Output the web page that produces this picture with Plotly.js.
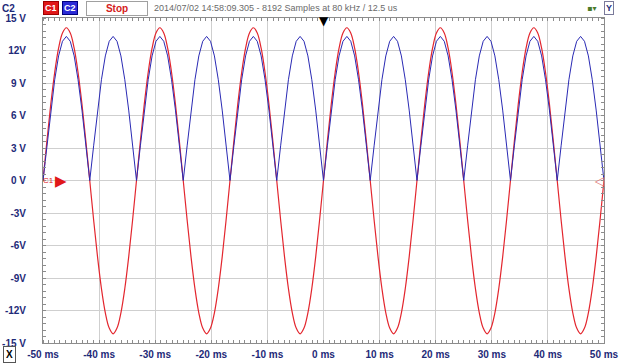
<!DOCTYPE html>
<html><head><meta charset="utf-8">
<script src="https://cdn.plot.ly/plotly-3.0.1.min.js"></script>
<style>html,body{margin:0;padding:0;background:#fff;}#chart{width:620px;height:363px;}</style>
</head><body><div id="chart"></div>
<script>
const sampleStartMs = -50;
const sampleStepMs = 0.6944;
const c1Volts = [
 0,3.65,7.05,9.97,12.21,13.62,14.1,13.62,12.21,9.97,7.05,3.65,0,-3.65,-7.05,-9.97,-12.21,-13.62,-14.15,-13.62,-12.21,-9.97,-7.05,-3.65,
 0,3.65,7.05,9.97,12.21,13.62,14.1,13.62,12.21,9.97,7.05,3.65,0,-3.65,-7.05,-9.97,-12.21,-13.62,-14.15,-13.62,-12.21,-9.97,-7.05,-3.65,
 0,3.65,7.05,9.97,12.21,13.62,14.1,13.62,12.21,9.97,7.05,3.65,0,-3.65,-7.05,-9.97,-12.21,-13.62,-14.15,-13.62,-12.21,-9.97,-7.05,-3.65,
 0,3.65,7.05,9.97,12.21,13.62,14.1,13.62,12.21,9.97,7.05,3.65,0,-3.65,-7.05,-9.97,-12.21,-13.62,-14.15,-13.62,-12.21,-9.97,-7.05,-3.65,
 0,3.65,7.05,9.97,12.21,13.62,14.1,13.62,12.21,9.97,7.05,3.65,0,-3.65,-7.05,-9.97,-12.21,-13.62,-14.15,-13.62,-12.21,-9.97,-7.05,-3.65,
 0,3.65,7.05,9.97,12.21,13.62,14.1,13.62,12.21,9.97,7.05,3.65,0,-3.65,-7.05,-9.97,-12.21,-13.62,-14.15,-13.62,-12.21,-9.97,-7.05,-3.65,
 0];
const c2Volts = [
 0,3.2,6.5,9.3,11.5,12.85,13.3,12.85,11.5,9.3,6.5,3.2,0,3.2,6.5,9.3,11.5,12.85,13.3,12.85,11.5,9.3,6.5,3.2,
 0,3.2,6.5,9.3,11.5,12.85,13.3,12.85,11.5,9.3,6.5,3.2,0,3.2,6.5,9.3,11.5,12.85,13.3,12.85,11.5,9.3,6.5,3.2,
 0,3.2,6.5,9.3,11.5,12.85,13.3,12.85,11.5,9.3,6.5,3.2,0,3.2,6.5,9.3,11.5,12.85,13.3,12.85,11.5,9.3,6.5,3.2,
 0,3.2,6.5,9.3,11.5,12.85,13.3,12.85,11.5,9.3,6.5,3.2,0,3.2,6.5,9.3,11.5,12.85,13.3,12.85,11.5,9.3,6.5,3.2,
 0,3.2,6.5,9.3,11.5,12.85,13.3,12.85,11.5,9.3,6.5,3.2,0,3.2,6.5,9.3,11.5,12.85,13.3,12.85,11.5,9.3,6.5,3.2,
 0,3.2,6.5,9.3,11.5,12.85,13.3,12.85,11.5,9.3,6.5,3.2,0,3.2,6.5,9.3,11.5,12.85,13.3,12.85,11.5,9.3,6.5,3.2,
 0];
const xTickVals = [-50,-40,-30,-20,-10,0,10,20,30,40,50];
const xTickText = ['-50 ms','-40 ms','-30 ms','-20 ms','-10 ms','0 ms','10 ms','20 ms','30 ms','40 ms','50 ms'];
const yTickVals = [15,12,9,6,3,0,-3,-6,-9,-12,-15];
const yTickText = ['15 V','12V','9 V','6 V','3 V','0 V','-3V','-6V','-9V','-12V','-15 V'];
const headerText = '2014/07/02 14:58:09.305 - 8192 Samples at 80 kHz / 12.5 us';

const navy = '#1e2a78';
const labelFont = {family:'Liberation Sans, Arial, sans-serif', size:10, color:navy, weight:'bold'};

const traces = [
  {type:'scatter', mode:'lines', x0:sampleStartMs, dx:sampleStepMs, y:c1Volts,
   line:{color:'#e3262e', width:1.2, shape:'spline'}, hoverinfo:'skip'},
  {type:'scatter', mode:'lines', x0:sampleStartMs, dx:sampleStepMs, y:c2Volts,
   line:{color:'#2a2ab4', width:1}, hoverinfo:'skip'}
];

const layout = {
  width:620, height:363,
  margin:{l:43, r:16, t:18, b:20, pad:0},
  paper_bgcolor:'#ffffff', plot_bgcolor:'#ffffff',
  showlegend:false,
  xaxis:{range:[-50,50], tickvals:xTickVals, ticktext:xTickText, tickfont:labelFont,
         showgrid:true, gridcolor:'#cfcfcf', gridwidth:1, zeroline:false,
         showline:true, linecolor:'#8c8c8c', linewidth:1, mirror:'ticks',
         ticks:'', ticklabelstandoff:2,
         minor:{dtick:1, ticks:'inside', ticklen:3, tickcolor:'#8c8c8c', showgrid:false}},
  xaxis2:{range:[-50,50], overlaying:'x', anchor:'y', side:'bottom', dtick:5, tick0:0,
          ticks:'inside', ticklen:5, tickcolor:'#8c8c8c', showticklabels:false,
          showgrid:false, zeroline:false, mirror:'ticks', showline:false},
  yaxis:{range:[-15,15], tickvals:yTickVals, ticktext:yTickText, tickfont:labelFont,
         showgrid:true, gridcolor:'#cfcfcf', gridwidth:1, zeroline:false,
         showline:true, linecolor:'#8c8c8c', linewidth:1, mirror:'ticks',
         ticks:'', ticklabelstandoff:14,
         minor:{dtick:0.6, ticks:'inside', ticklen:3, tickcolor:'#8c8c8c', showgrid:false}},
  shapes:[
    {type:'line', xref:'paper', x0:0, x1:1, yref:'y', y0:0, y1:0, layer:'between', line:{color:'#ffffff', width:1.5}},
    {type:'line', xref:'x', x0:0, x1:0, yref:'paper', y0:0, y1:1, layer:'between', line:{color:'#ffffff', width:1.5}},
    {type:'line', xref:'paper', x0:0, x1:1, yref:'y', y0:0, y1:0, layer:'between', line:{color:'#8a8a8a', width:1, dash:'dot'}},
    {type:'line', xref:'x', x0:0, x1:0, yref:'paper', y0:0, y1:1, layer:'between', line:{color:'#8a8a8a', width:1, dash:'dot'}}
  ],
  annotations:[
    {xref:'paper', yref:'paper', x:-0.062, y:1, yshift:10, text:'<b>C2</b>', showarrow:false, xanchor:'center', yanchor:'middle',
     font:{family:'Liberation Sans, Arial, sans-serif', size:10, color:navy}},
    {xref:'paper', yref:'paper', x:0, y:1, xshift:0, yshift:10, text:'<b>C1</b>', showarrow:false, xanchor:'left', yanchor:'middle',
     bgcolor:'#e01818', bordercolor:'#a00000', borderwidth:1, borderpad:1,
     font:{family:'Liberation Sans, Arial, sans-serif', size:9, color:'#ffffff'}},
    {xref:'paper', yref:'paper', x:0, y:1, xshift:19, yshift:10, text:'<b>C2</b>', showarrow:false, xanchor:'left', yanchor:'middle',
     bgcolor:'#2b2bd6', bordercolor:'#000080', borderwidth:1, borderpad:1,
     font:{family:'Liberation Sans, Arial, sans-serif', size:9, color:'#ffffff'}},
    {xref:'paper', yref:'paper', x:0, y:1, xshift:43, yshift:10, text:'<b>Stop</b>', showarrow:false, xanchor:'left', yanchor:'middle',
     width:58, height:11, bgcolor:'#ffffff', bordercolor:'#a0a0a0', borderwidth:1, borderpad:1,
     font:{family:'Liberation Sans, Arial, sans-serif', size:10, color:'#d42020'}},
    {xref:'paper', yref:'paper', x:0, y:1, xshift:109, yshift:10, text:headerText, showarrow:false, xanchor:'left', yanchor:'middle',
     font:{family:'Liberation Sans, Arial, sans-serif', size:9, color:'#6a6a6a'}},
    {xref:'paper', yref:'paper', x:1, y:1, xshift:10, yshift:10, text:'<b>Y</b>', showarrow:false, xanchor:'right', yanchor:'middle',
     bgcolor:'#ffffff', bordercolor:'#7a7a9a', borderwidth:1, borderpad:1,
     font:{family:'Liberation Sans, Arial, sans-serif', size:9, color:navy}},
    {xref:'paper', yref:'paper', x:1, y:1, xshift:-6, yshift:10, text:'▪▾', showarrow:false, xanchor:'right', yanchor:'middle',
     font:{family:'DejaVu Sans', size:8, color:'#4a7a2a'}},
    {xref:'paper', yref:'paper', x:0, y:0, xshift:-34, yshift:-11, text:'<b>X</b>', showarrow:false, xanchor:'center', yanchor:'middle',
     bgcolor:'#ffffff', bordercolor:'#555555', borderwidth:1, borderpad:2,
     font:{family:'Liberation Sans, Arial, sans-serif', size:10, color:'#000000'}},
    {xref:'x', yref:'paper', x:0, y:1, yshift:-3, text:'▼', showarrow:false, xanchor:'center', yanchor:'middle',
     font:{family:'DejaVu Sans', size:12, color:'#000000'}},
    {xref:'paper', yref:'y', x:0, y:0, xshift:5, text:'C1', showarrow:false, xanchor:'center', yanchor:'middle',
     font:{family:'Liberation Sans, Arial, sans-serif', size:8, color:'#e02020'}},
    {xref:'paper', yref:'y', x:0, y:0, xshift:18, text:'▶', showarrow:false, xanchor:'center', yanchor:'middle',
     font:{family:'DejaVu Sans', size:15, color:'#e01818'}},
    {xref:'paper', yref:'y', x:1, y:0, xshift:-5, text:'◁', showarrow:false, xanchor:'center', yanchor:'middle',
     font:{family:'DejaVu Sans', size:12, color:'#e07070'}}
  ]
};

Plotly.newPlot('chart', traces, layout, {staticPlot:true, displayModeBar:false});
</script></body></html>
